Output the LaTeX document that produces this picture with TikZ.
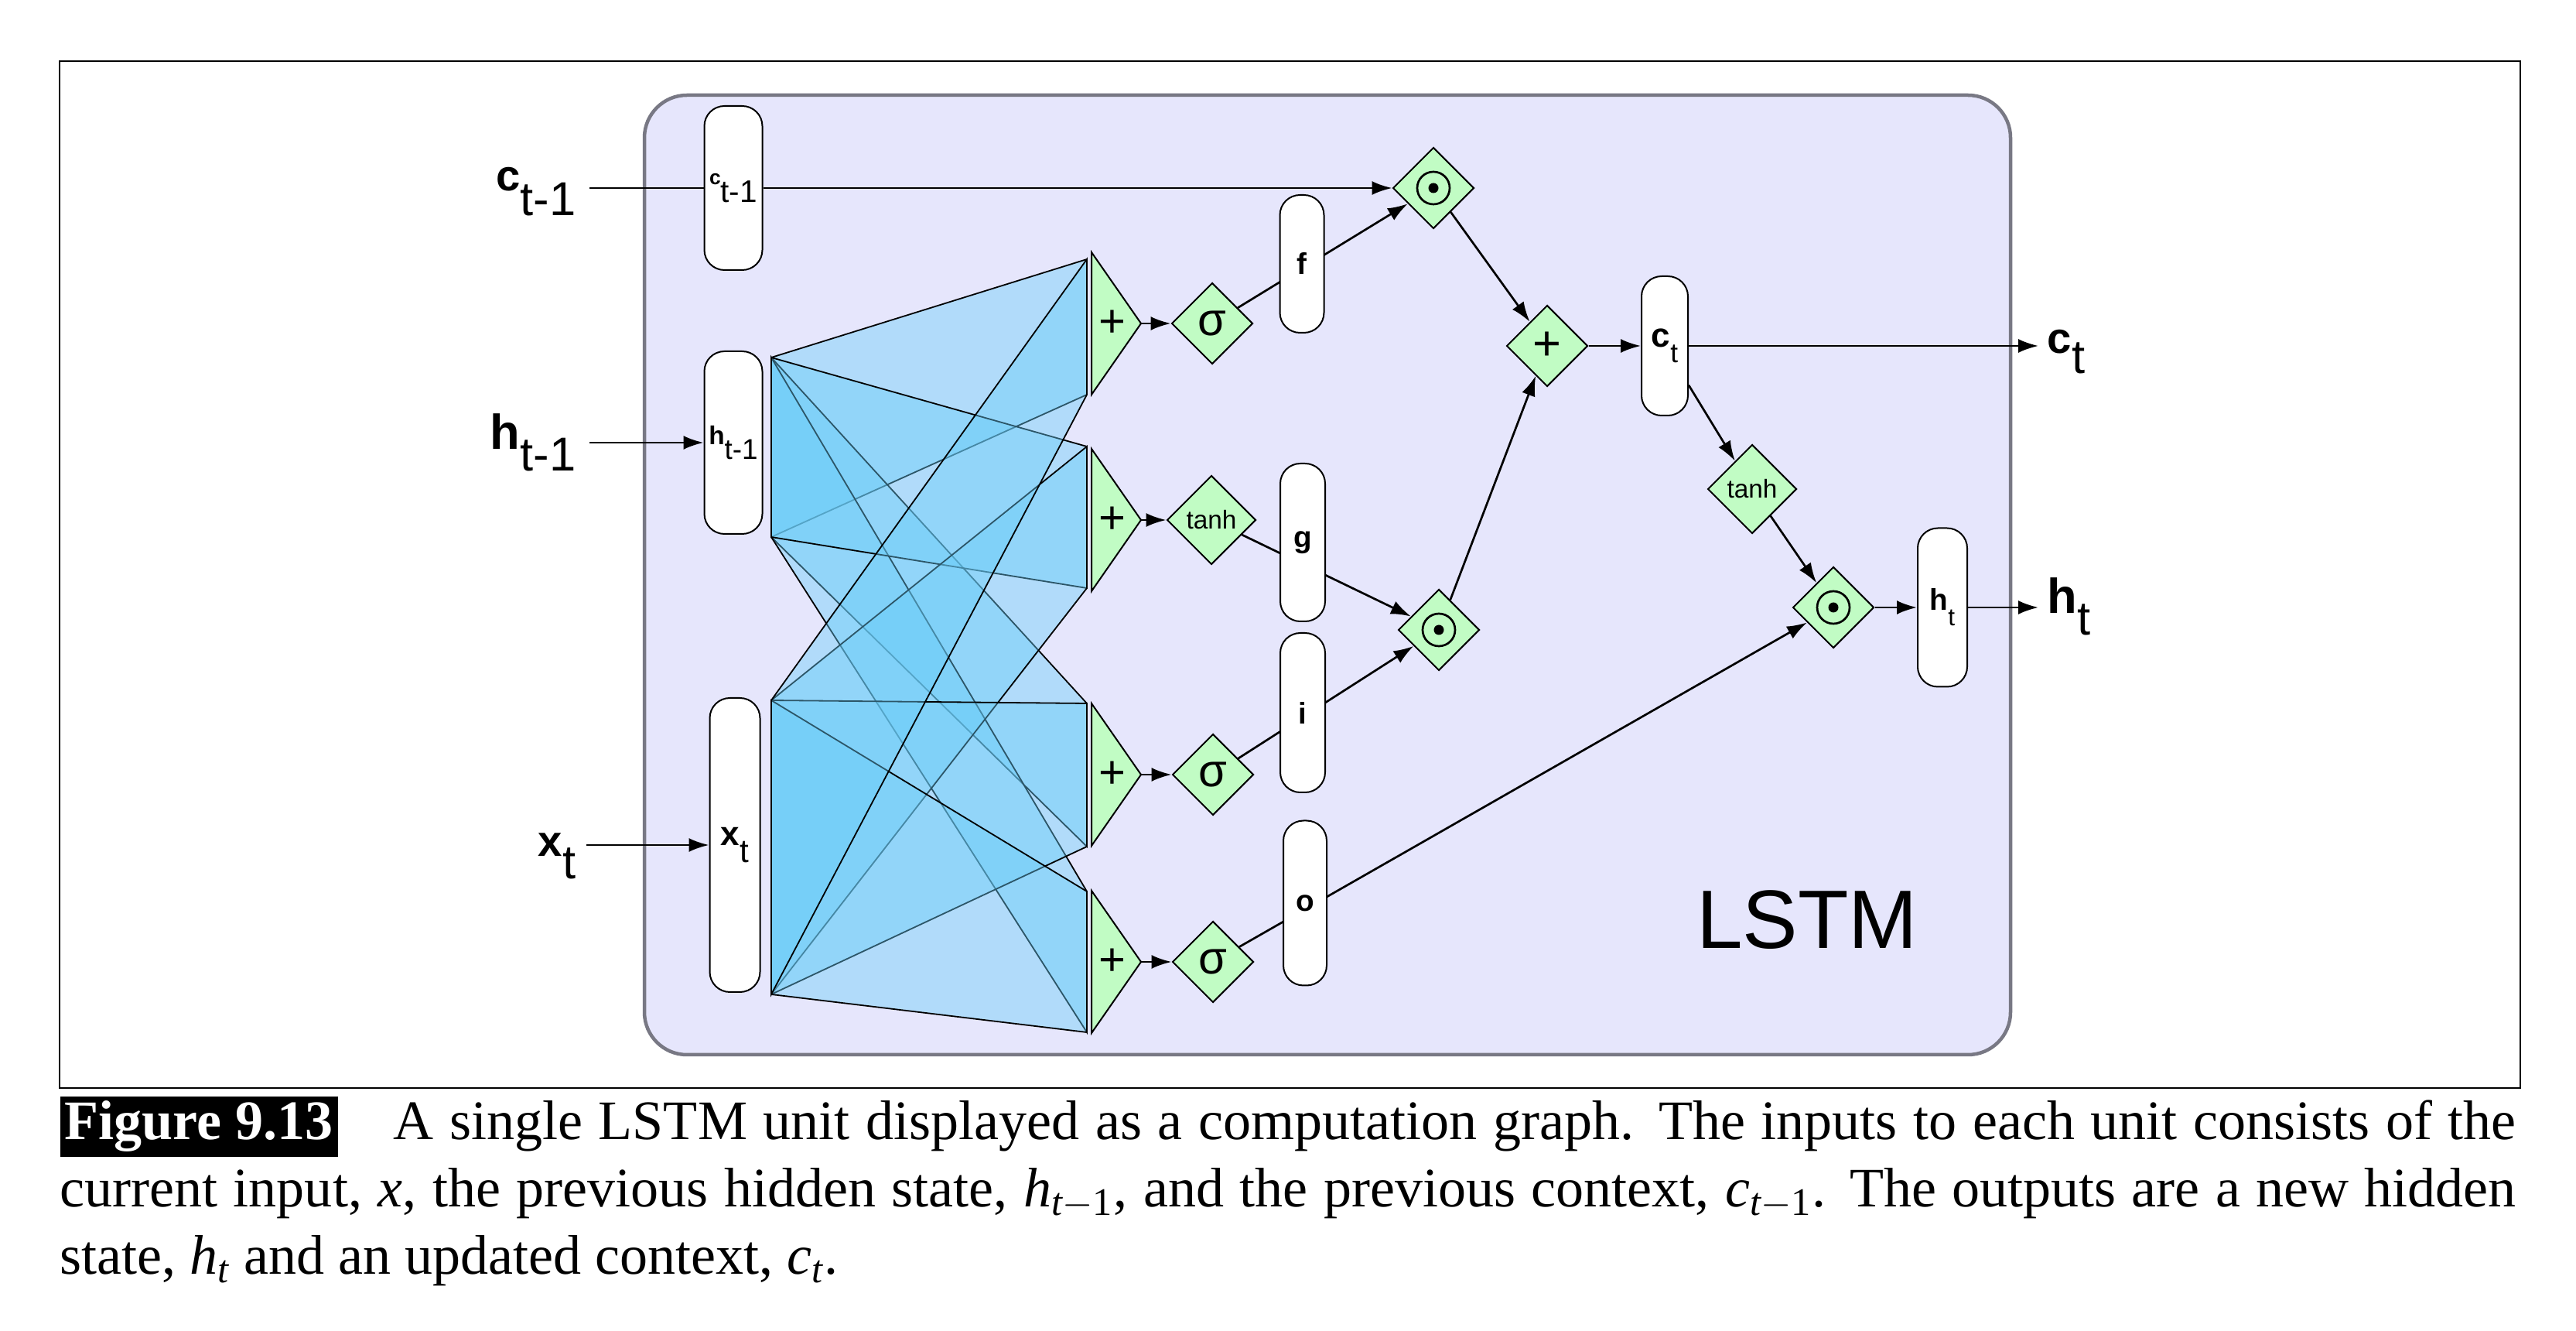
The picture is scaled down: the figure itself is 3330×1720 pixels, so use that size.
\documentclass[tikz,border=0pt]{standalone}
\usepackage{amsmath}
\usepackage{fontspec}
\setmainfont{Liberation Serif}
\setsansfont{Liberation Sans}
\usetikzlibrary{arrows.meta,shapes.geometric}
\definecolor{lstmbg}{RGB}{230,230,252}
\definecolor{lstmline}{RGB}{120,120,132}
\definecolor{opgreen}{RGB}{193,252,196}
\definecolor{wblue}{RGB}{105,205,248}
\pgfdeclarelayer{back}
\pgfdeclarelayer{wires}
\pgfsetlayers{back,wires,main}
\newcommand\fsz[1]{\fontsize{#1}{#1}\selectfont}
% letter size, subscript size, letter, subscript, drop (pt)
\newcommand\vlab[5]{{\bfseries\fsz{#1}#3}{\fsz{#2}\raisebox{-#5pt}{#4}}}

\begin{document}
\begin{tikzpicture}[
  x = 0.1mm, y = -0.1mm,
  > = {Latex[length=2.6mm,width=1.8mm]},
  wire/.style = {->,line width=0.27mm},
  pill/.style = {draw,fill=white,line width=0.2mm,rounded corners=2.6mm,inner sep=0pt,font=\sffamily},
  op/.style = {draw,fill=opgreen,diamond,aspect=1,inner sep=0pt,line width=0.2mm,minimum width=10.5mm,minimum height=10.5mm,font=\sffamily},
  odot/.style = {op,path picture={
      \draw[black,line width=0.27mm] (path picture bounding box.center) circle[radius=2.1mm];
      \fill[black] (path picture bounding box.center) circle[radius=0.65mm];}},
  quad/.style = {fill=wblue,fill opacity=0.42,draw=black,line width=0.18mm},
  io/.style = {font=\sffamily,inner sep=0pt}
  ]
  \useasboundingbox (0,0) rectangle (3330,1720);
  \begin{pgfonlayer}{back}
    \draw[line width=0.28mm] (77,79) rectangle (3258,1406);
    \draw[lstmline,fill=lstmbg,line width=0.45mm,rounded corners=5.5mm] (833,123) rectangle (2599,1363);
  \end{pgfonlayer}
  % inputs
  \node[io,anchor=base east] (Lc) at (745,247) {\vlab{16}{17.5}{c}{t-1}{9}};
  \node[io,anchor=base east] (Lh) at (745,581) {\vlab{18}{17.5}{h}{t-1}{7.7}};
  \node[io,anchor=base east] (Lx) at (745,1107) {\vlab{16}{17.5}{x}{t}{8}};
  \node[pill,minimum width=7.5mm,minimum height=21.2mm] (cprev) at (948,243) {\vlab{7.5}{11.5}{c}{t-1}{6.5}};
  \node[pill,minimum width=7.5mm,minimum height=23.6mm] (hprev) at (948,572) {\vlab{9.5}{10.5}{h}{t-1}{5.4}};
  \node[pill,minimum width=6.5mm,minimum height=38mm] (xin) at (950,1092) {\vlab{12.5}{12}{x}{t}{6.5}};
  % adders
  \foreach \y/\n in {418/1,672/2,1001/3,1243/4} {
    \draw[fill=opgreen,line width=0.2mm] (1411,\y-92) -- (1475,\y) -- (1411,\y+92) -- cycle;
    \node[font=\sffamily\fsz{17}] at (1438,\y) {+};
    \coordinate (add\n) at (1475,\y);
  }
  % gates
  \node[op,font=\sffamily\fsz{17}] (sf) at (1567,418) {σ};
  \node[op,minimum width=11.5mm,minimum height=11.5mm,font=\sffamily\fsz{9.5}] (tg) at (1566,672) {tanh};
  \node[op,font=\sffamily\fsz{17}] (si) at (1568,1001) {σ};
  \node[op,font=\sffamily\fsz{17}] (so) at (1568,1243) {σ};
  \node[pill,minimum width=5.7mm,minimum height=17.8mm,font=\sffamily\bfseries\fsz{11}] (f) at (1683,341) {f};
  \node[pill,minimum width=5.8mm,minimum height=20.4mm,font=\sffamily\bfseries\fsz{11}] (g) at (1684,701) {g};
  \node[pill,minimum width=5.8mm,minimum height=20.6mm,font=\sffamily\bfseries\fsz{11}] (i) at (1684,921) {i};
  \node[pill,minimum width=5.6mm,minimum height=21.3mm,font=\sffamily\bfseries\fsz{11}] (o) at (1687,1167) {o};
  % cell
  \node[odot] (mf) at (1853,243) {};
  \node[odot] (mi) at (1860,814) {};
  \node[op,font=\sffamily\fsz{18}] (sum) at (2000,447) {+};
  \node[pill,minimum width=6mm,minimum height=18mm] (ct) at (2152,447) {\vlab{12.5}{10}{c}{t}{5.7}};
  \node[op,minimum width=11.5mm,minimum height=11.5mm,font=\sffamily\fsz{9.5}] (tc) at (2265,632) {tanh};
  \node[odot] (mo) at (2370,785) {};
  \node[pill,minimum width=6.4mm,minimum height=20.5mm] (ht) at (2511,785) {\vlab{11}{9}{h}{t}{5.7}};
  \node[io,anchor=base west] (Lct) at (2646,457) {\vlab{16}{17.5}{c}{t}{7.4}};
  \node[io,anchor=base west] (Lht) at (2646,793) {\vlab{18}{17.5}{h}{t}{7.7}};
  \node[font=\sffamily\fsz{30.5}] (name) at (2336,1189) {LSTM};
  % weights and wires
  \begin{pgfonlayer}{wires}
    \foreach \a/\b/\c/\d in {462/694/335/510, 462/694/909/1094, 462/694/1152/1334, 462/694/577/760,
                             905/1285/577/760, 905/1285/909/1094, 905/1285/1152/1334, 905/1285/335/510}
      \draw[quad] (997,\a) -- (1405,\c) -- (1405,\d) -- (997,\b) -- cycle;
    \draw[line width=0.27mm] ([xshift=1.7mm]Lc.east |- cprev) -- (cprev);
    \draw[wire] ([xshift=1.7mm]Lh.east |- hprev) -- (hprev);
    \draw[wire] ([xshift=1.3mm]Lx.east |- xin) -- (xin);
    \draw[wire] (cprev) -- (mf);
    \foreach \n/\s in {1/sf,2/tg,3/si,4/so}
      \draw[wire] (add\n) -- (\s);
    \draw[wire] (sf) -- (mf);
    \draw[wire] (tg) -- (mi);
    \draw[wire] (si) -- (mi);
    \draw[wire] (so) -- (mo);
    \draw[wire] (mf) -- (sum);
    \draw[wire] (mi) -- (sum);
    \draw[wire] (sum) -- (ct);
    \draw[wire] (ct) -- ([xshift=-1.1mm]Lct.west |- ct);
    \draw[wire] (ct) -- (tc);
    \draw[wire] (tc) -- (mo);
    \draw[wire] (mo) -- (ht);
    \draw[wire] (ht) -- ([xshift=-1.1mm]Lht.west |- ht);
  \end{pgfonlayer}
  % caption
  \node[anchor=base west,inner sep=0pt] (cap) at (77,1473) {\parbox[t]{317.5mm}{\fontsize{20.5}{24.7}\selectfont
    {\setlength{\fboxsep}{0.6mm}\colorbox{black}{\textcolor{white}{\bfseries Figure 9.13}}}\quad
    A single LSTM unit displayed as a computation graph. The inputs to each unit consists of the\linebreak
    current input, \textit{x}, the previous hidden state, \textit{h}$_{\textit{t}-\text{1}}$, and the previous context, \textit{c}$_{\textit{t}-\text{1}}$. The outputs are a new hidden\linebreak
    state, \textit{h}$_{\textit{t}}$ and an updated context, \textit{c}$_{\textit{t}}$.}};
\end{tikzpicture}
\end{document}
